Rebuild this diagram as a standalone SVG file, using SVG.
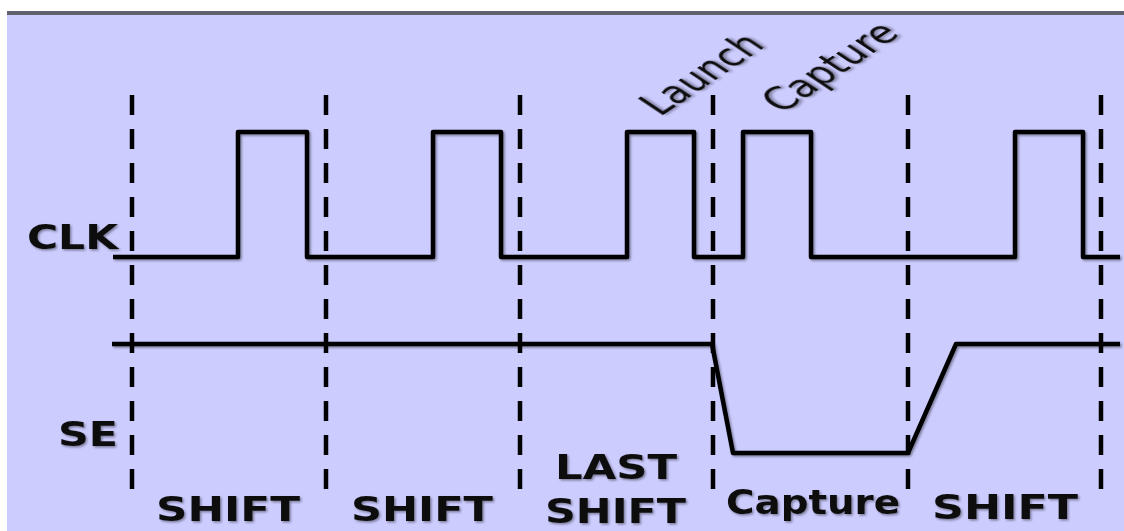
<svg xmlns="http://www.w3.org/2000/svg" width="1124" height="531" viewBox="0 0 1124 531">
  <defs>
    <filter id="sh" x="-10%" y="-10%" width="120%" height="120%">
      <feDropShadow dx="1.5" dy="1.5" stdDeviation="1.3" flood-color="#000" flood-opacity="0.4"/>
    </filter>
  </defs>
  <style>
    .wave { fill: none; stroke: #000; stroke-width: 4.5; stroke-linejoin: round; filter: url(#sh); }
    .dash { fill: none; stroke: #000; stroke-width: 4.5; stroke-dasharray: 20 14; }
    .lbl { font-family: "DejaVu Sans", Verdana, sans-serif; font-weight: bold; font-size: 33px; fill: #111; filter: url(#sh); }
    .rot { font-family: "DejaVu Sans", Verdana, sans-serif; font-size: 32px; fill: #111; filter: url(#sh); }
  </style>
  <rect x="0" y="0" width="1124" height="531" fill="#ffffff"/>
  <rect x="7" y="11" width="1117" height="520" fill="#ccccff"/>
  <rect x="7" y="11" width="1117" height="4" fill="#62626e"/>

  <g id="gridlines">
    <line class="dash" x1="132" y1="95" x2="132" y2="489"/>
    <line class="dash" x1="326" y1="95" x2="326" y2="489"/>
    <line class="dash" x1="520" y1="95" x2="520" y2="489"/>
    <line class="dash" x1="713" y1="95" x2="713" y2="489"/>
    <line class="dash" x1="908" y1="95" x2="908" y2="489"/>
    <line class="dash" x1="1101" y1="95" x2="1101" y2="489"/>
  </g>

  <g id="connectors">
    <path id="clk-wave" class="wave" d="M113,257 H238 V132 H307 V257 H433 V132 H501 V257 H627 V132 H694 V257 H743 V132 H811 V257 H1015 V132 H1083 V257 H1120"/>
    <path id="se-wave" class="wave" d="M112,344 H712 L733,453 H908 L956,344 H1120"/>
  </g>

  <g id="label-clk"><text class="lbl" x="27" y="249" textLength="91" lengthAdjust="spacingAndGlyphs">CLK</text></g>
  <g id="label-se"><text class="lbl" x="58" y="446" textLength="60" lengthAdjust="spacingAndGlyphs">SE</text></g>

  <g id="label-launch"><text class="rot" transform="translate(660,117) scale(1.5,1) rotate(-45)" textLength="100" lengthAdjust="spacingAndGlyphs">Launch</text></g>
  <g id="label-capture-top"><text class="rot" transform="translate(782,114) scale(1.5,1) rotate(-45)" textLength="112" lengthAdjust="spacingAndGlyphs">Capture</text></g>

  <g id="label-shift1"><text class="lbl" x="156" y="521" textLength="144" lengthAdjust="spacingAndGlyphs">SHIFT</text></g>
  <g id="label-shift2"><text class="lbl" x="351" y="521" textLength="142" lengthAdjust="spacingAndGlyphs">SHIFT</text></g>
  <g id="label-last-shift">
    <text class="lbl" x="555" y="479" textLength="122" lengthAdjust="spacingAndGlyphs">LAST</text>
    <text class="lbl" x="545" y="523" textLength="141" lengthAdjust="spacingAndGlyphs">SHIFT</text>
  </g>
  <g id="label-capture"><text class="lbl" x="726" y="514" textLength="174" lengthAdjust="spacingAndGlyphs">Capture</text></g>
  <g id="label-shift4"><text class="lbl" x="932" y="519" textLength="146" lengthAdjust="spacingAndGlyphs">SHIFT</text></g>
</svg>
